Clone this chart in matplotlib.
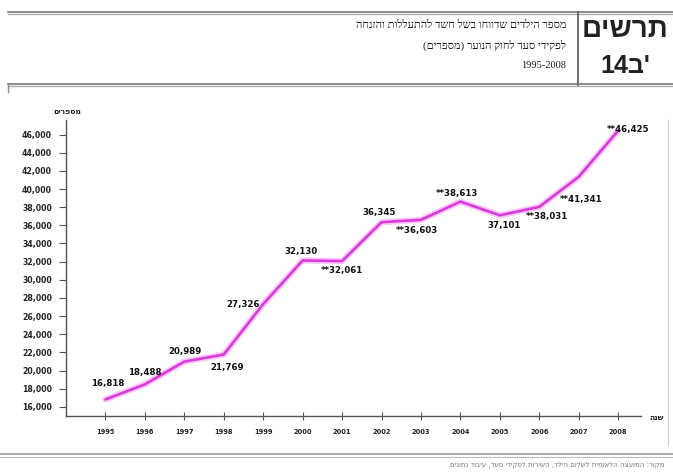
import re
import matplotlib
matplotlib.use("Agg")
import matplotlib.pyplot as plt
from matplotlib.lines import Line2D
from matplotlib.ticker import FuncFormatter

# ---------------- data ----------------
years = [1995, 1996, 1997, 1998, 1999, 2000, 2001, 2002, 2003, 2004, 2005, 2006, 2007, 2008]
values = [16818, 18488, 20989, 21769, 27326, 32130, 32061, 36345, 36603, 38613, 37101, 38031, 41341, 46425]
value_labels = ["16,818", "18,488", "20,989", "21,769", "27,326", "32,130", "**32,061", "36,345",
                "**36,603", "**38,613", "37,101", "**38,031", "**41,341", "**46,425"]
y_ticks = list(range(16000, 46001, 2000))

title_lines = ["מספר הילדים שדווחו בשל חשד להתעללות והזנחה",
               "לפקידי סעד לחוק הנוער (מספרים)"]
title_years = "1995-2008"
chart_word = "תרשים"
chart_num = "14ב'"
y_label = "מספרים"
x_label = "שנה"
source = "מקור: המועצה הלאומית לשלום הילד, השירות לפקידי סעד, עיבוד נתונים"


def vis(s):
    """Convert logical Hebrew text to visual (left-to-right) order."""
    r = s[::-1]
    r = re.sub(r'[0-9][0-9,.\-]*[0-9]|[0-9]', lambda m: m.group(0)[::-1], r)
    mirror = {'(': ')', ')': '(', '[': ']', ']': '['}
    return ''.join(mirror.get(c, c) for c in r)


W, H = 673, 473
fig = plt.figure(figsize=(W / 100, H / 100), dpi=100)
fig.patch.set_facecolor("white")


def fx(x):
    return x / W


def fy(y):
    return 1 - y / H


def hline(y, x0, x1, lw=1.0, color="#888888"):
    fig.add_artist(Line2D([fx(x0), fx(x1)], [fy(y), fy(y)], lw=lw, color=color,
                          transform=fig.transFigure))


def vline(x, y0, y1, lw=1.0, color="#888888"):
    fig.add_artist(Line2D([fx(x), fx(x)], [fy(y0), fy(y1)], lw=lw, color=color,
                          transform=fig.transFigure))


# header frame
hline(12, 8, 673, lw=1.2, color="#777777")
hline(14.5, 8, 673, lw=1.0, color="#aaaaaa")
vline(578, 12, 85, lw=1.3, color="#666666")
hline(84, 8, 673, lw=1.2, color="#777777")
hline(86.5, 8, 673, lw=1.0, color="#aaaaaa")
vline(8, 85, 92, lw=1.0, color="#888888")
vline(668, 120, 445, lw=0.8, color="#cccccc")
# footer line
hline(454, 0, 673, lw=1.2, color="#999999")
hline(456.5, 0, 673, lw=0.8, color="#bbbbbb")

serif = ["Liberation Serif", "DejaVu Serif", "DejaVu Sans"]
fig.text(fx(566), fy(25), vis(title_lines[0]), ha="right", va="center",
         fontsize=8.0, family=serif, color="#1a1a1a")
fig.text(fx(566), fy(45), vis(title_lines[1]), ha="right", va="center",
         fontsize=8.0, family=serif, color="#1a1a1a")
fig.text(fx(566), fy(65), title_years, ha="right", va="center",
         fontsize=7.5, family=serif, color="#1a1a1a")
fig.text(fx(625), fy(30), vis(chart_word), ha="center", va="center",
         fontsize=20, family=["Liberation Sans", "DejaVu Sans"], weight="bold", color="#222222")
fig.text(fx(625), fy(66), chart_num, ha="center", va="center",
         fontsize=18, family=["Liberation Sans", "DejaVu Sans"], weight="bold", color="#222222")

fig.text(fx(665), fy(465), vis(source), ha="right", va="center",
         fontsize=5, family=["DejaVu Sans"], color="#777777")

# ---------------- axes ----------------
ax = fig.add_axes([66 / W, 1 - 416 / H, (641 - 66) / W, (416 - 120) / H])
ax.set_facecolor("none")
ax.set_xlim(1994.0, 2008.58)
ax.set_ylim(15000, 47600)

for s in ["top", "right"]:
    ax.spines[s].set_visible(False)
for s in ["left", "bottom"]:
    ax.spines[s].set_color("#555555")
    ax.spines[s].set_linewidth(1.0)

ax.set_xticks(years)
ax.set_xticklabels([str(y) for y in years])
ax.set_yticks(y_ticks)
ax.yaxis.set_major_formatter(FuncFormatter(lambda v, p: f"{int(v):,}"))
ax.tick_params(axis="x", direction="inout", length=6, width=0.8, color="#555555",
               labelsize=4.8, pad=6)
ax.tick_params(axis="y", direction="out", length=5, width=0.8, color="#555555",
               labelsize=5.6, pad=5)
for lab in ax.get_xticklabels() + ax.get_yticklabels():
    lab.set_fontweight("bold")
    lab.set_color("#222222")

# glow + line
ax.plot(years, values, color="#f4a6f4", lw=4.5, alpha=0.6, solid_capstyle="round", zorder=2)
ax.plot(years, values, color="#d93ad9", lw=1.9, solid_capstyle="round", zorder=3)

# data labels: offsets in pixels (dx, dy), positive dy = up
offsets = [(2, 16), (0, 12), (1, 10), (3, -13), (-20, 0), (-2, 9), (0, -9), (-2, 10),
           (-4, -11), (-3, 8), (4, -10), (8, -10), (2, -23), (10, 1)]
for x, v, lab, (dx, dy) in zip(years, values, value_labels, offsets):
    ax.annotate(lab, (x, v), xytext=(dx, dy), textcoords="offset pixels",
                ha="center", va="center", fontsize=6.2, fontweight="bold",
                color="#111111", zorder=4)

fig.text(fx(67), fy(112), vis(y_label), ha="center", va="center",
         fontsize=5.5, weight="bold", family=["DejaVu Sans"], color="#222222")
fig.text(fx(656), fy(417), vis(x_label), ha="center", va="center",
         fontsize=5.5, weight="bold", family=["DejaVu Sans"], color="#222222")

fig.savefig("out.png", dpi=100, facecolor="white")
